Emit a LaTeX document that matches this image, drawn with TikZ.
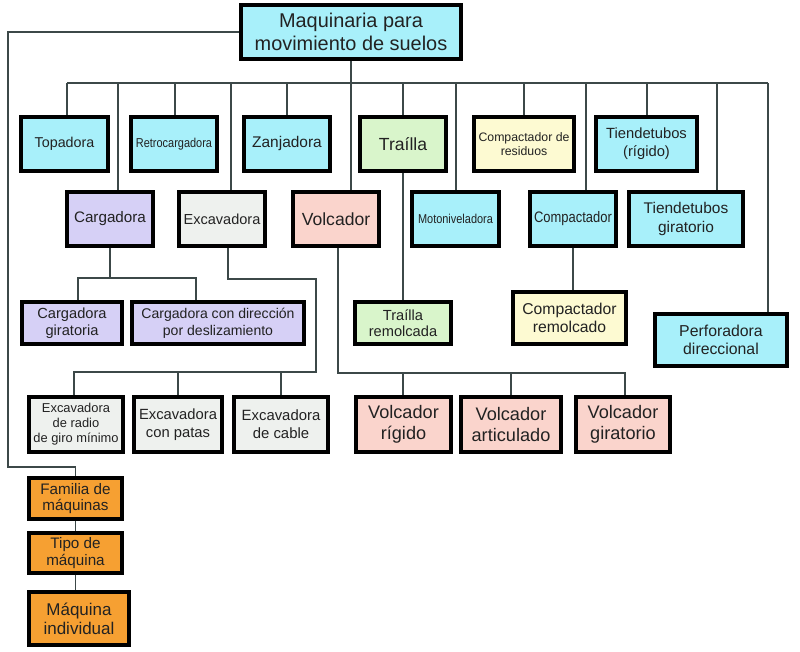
\documentclass[tikz,border=0pt]{standalone}
\usepackage{fontspec}
\setmainfont{Liberation Sans}
\newfontfamily\narrowfont[FakeStretch=0.85]{Liberation Sans}
\definecolor{cus-cyan}{RGB}{168, 240, 250}
\definecolor{cus-purp}{RGB}{214, 208, 246}
\definecolor{cus-gray}{RGB}{238, 241, 238}
\definecolor{cus-pink}{RGB}{250, 212, 204}
\definecolor{cus-green}{RGB}{217, 245, 203}
\definecolor{cus-yellow}{RGB}{253, 250, 210}
\definecolor{cus-orange}{RGB}{246, 160, 50}
\definecolor{cus-line}{RGB}{60, 72, 72}
\definecolor{cus-text}{RGB}{34, 34, 34}
\newcommand{\fsz}[2]{\fontsize{#1}{#2}\selectfont}
\tikzset{
	maq/.style n args={3}{draw=black, line width=2.6pt, fill=#1, text=cus-text,
		minimum width=#2*0.03cm, minimum height=#3*0.03cm, inner sep=0pt, align=center},
	link/.style={draw=cus-line, line width=1.2pt}
}
\begin{document}
\begin{tikzpicture}[x=0.03cm, y=-0.03cm]
\useasboundingbox (0,0) rectangle (800,652);
% raiz
\node [maq={cus-cyan}{220}{54}, font=\fsz{17}{19.6}] (maq) at (351,32) {Maquinaria para\\movimiento de suelos};
% primera fila
\node [maq={cus-cyan}{87}{54}, font=\fsz{12.2}{14}] (topa) at (64.5,144) {Topadora};
\node [maq={cus-cyan}{86}{54}, font=\narrowfont\fsz{11}{13}] (retro) at (174,144) {Retrocargadora};
\node [maq={cus-cyan}{86}{54}, font=\fsz{13.2}{15}] (zanja) at (287,144) {Zanjadora};
\node [maq={cus-green}{86}{54}, font=\fsz{15}{17}] (trailla) at (403,144) {Traílla};
\node [maq={cus-yellow}{100}{54}, font=\fsz{10.5}{12.5}] (cres) at (524,144) {Compactador de\\residuos};
\node [maq={cus-cyan}{101}{54}, font=\fsz{12.6}{15.4}] (tiend) at (646.5,144) {Tiendetubos\\(rígido)};
% segunda fila
\node [maq={cus-purp}{86}{54}, font=\fsz{13}{15}] (carg) at (110,219) {Cargadora};
\node [maq={cus-gray}{86}{54}, font=\fsz{12.4}{14}] (exc) at (222,219) {Excavadora};
\node [maq={cus-pink}{86}{54}, font=\fsz{15}{17}] (volc) at (336,219) {Volcador};
\node [maq={cus-cyan}{87}{54}, font=\narrowfont\fsz{11}{13}] (moto) at (455.5,219) {Motoniveladora};
\node [maq={cus-cyan}{86}{54}, font=\narrowfont\fsz{13}{15}] (comp) at (573,219) {Compactador};
\node [maq={cus-cyan}{114}{54}, font=\fsz{13.2}{15.4}] (tgir) at (686,219) {Tiendetubos\\giratorio};
\node [maq={cus-cyan}{132}{52}, font=\fsz{13.5}{15.6}] (perf) at (721,340) {Perforadora\\direccional};
% tipos
\node [maq={cus-purp}{100}{42}, font=\fsz{12.5}{14.2}] (cgir) at (72,323) {Cargadora\\giratoria};
\node [maq={cus-purp}{172}{42}, font=\fsz{12}{14.2}] (cdes) at (218,323) {Cargadora con dirección\\por deslizamiento};
\node [maq={cus-green}{96}{42}, font=\fsz{12.5}{14.2}] (trem) at (403,323) {Traílla\\remolcada};
\node [maq={cus-yellow}{113}{52}, font=\fsz{13.4}{15.6}] (crem) at (569.5,318) {Compactador\\remolcado};
\node [maq={cus-gray}{94}{55}, font=\fsz{11}{12.8}] (erad) at (76,424.5) {Excavadora\\de radio\\de giro mínimo};
\node [maq={cus-gray}{88}{55}, font=\fsz{12.6}{15.5}] (epat) at (178,424.5) {Excavadora\\con patas};
\node [maq={cus-gray}{94}{55}, font=\fsz{12.7}{15.5}] (ecab) at (281,424.5) {Excavadora\\de cable};
\node [maq={cus-pink}{95}{55}, font=\fsz{15.5}{18}] (vrig) at (403.5,424.5) {Volcador\\rígido};
\node [maq={cus-pink}{100}{55}, font=\fsz{15.5}{18}] (vart) at (511,424.5) {Volcador\\articulado};
\node [maq={cus-pink}{94}{55}, font=\fsz{15.5}{18}] (vgir) at (623,424.5) {Volcador\\giratorio};
% leyenda
\node [maq={cus-orange}{93}{41}, font=\fsz{13}{14.2}] (fam) at (75.5,498.5) {Familia de\\máquinas};
\node [maq={cus-orange}{93}{40}, font=\fsz{13}{14.2}] (tipo) at (75.5,553) {Tipo de\\máquina};
\node [maq={cus-orange}{100}{53}, font=\fsz{14.5}{16.2}] (ind) at (79,618.5) {Máquina\\individual};
% conectores
\coordinate (bus-l) at (67,83);
\coordinate (bus-r) at (768,83);
\draw [link] (bus-l) -- (bus-r);
\draw [link] (maq.south) -- (maq.south |- bus-l);
\foreach \n/\x in {topa/67, carg/118, retro/175, exc/231, zanja/287, volc/351, trailla/403,
	moto/456, cres/524, comp/586, tiend/647, tgir/717, perf/768}{
	\draw [link] (\x,83) -- (\n.north -| \x,0);
}
\draw [link] (maq.west) -| (8,467) -| (fam.north);
\draw [link] (fam.south) -- (tipo.north);
\draw [link] (tipo.south) -- (tipo.south |- ind.north);
\draw [link] (carg.south) -- (carg.south |- 0,278);
\draw [link] (cgir.north -| 78,0) |- (196,278) -- (cdes.north -| 196,0);
\draw [link] (exc.south -| 228,0) |- (316,279) |- (74,372) -- (erad.north -| 74,0);
\draw [link] (178,372) -- (epat.north);
\draw [link] (281,372) -- (ecab.north);
\draw [link] (volc.south -| 338,0) |- (625,373) -- (vgir.north -| 625,0);
\draw [link] (403,373) -- (vrig.north -| 403,0);
\draw [link] (511,373) -- (vart.north);
\draw [link] (trailla.south) -- (trem.north);
\draw [link] (comp.south) -- (comp.south |- crem.north);
\end{tikzpicture}
\end{document}
